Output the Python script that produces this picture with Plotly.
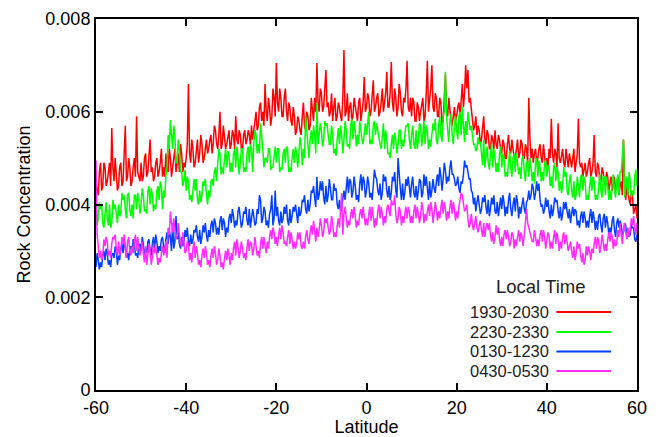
import plotly.graph_objects as go

# Sampling: main samples every 0.5 deg from -60 to 60, "mid" samples at the quarter-degree
# points in between (-59.75, -59.25, ... 59.75). Values in units of 1e-3.
LAT_START = -60
LAT_STEP = 0.25
UNIT = 1e-3

red_1930_2030 = [
    4.5, 4.2, 4.9, 4.4, 4.8, 4.5, 4.9, 5.65, 4.5, 4.7,
    4.4, 4.9, 4.5, 5.7, 4.6, 4.8, 4.5, 5.0, 5.9, 4.6,
    4.9, 4.6, 5.1, 4.7, 5.4, 4.8, 4.6, 5.0, 4.7, 5.2,
    4.8, 5.1, 4.7, 5.0, 4.8, 5.2, 4.9, 4.7, 5.1, 4.9,
    5.0, 6.6, 4.9, 5.2, 4.9, 5.4, 5.1, 5.3, 5.0, 5.4,
    5.2, 5.5, 5.3, 5.6, 5.2, 6.0, 5.3, 5.5, 5.3, 5.6,
    5.3, 5.5, 5.9, 5.3, 5.5, 5.2, 5.6, 5.4, 5.5, 5.7,
    5.6, 6.0, 5.7, 6.2, 6.0, 6.6, 5.8, 6.1, 5.9, 6.3,
    7.05, 6.0, 6.3, 5.9, 6.5, 5.8, 6.1, 5.7, 5.9, 5.6,
    5.8, 5.5, 6.2, 5.6, 5.9, 5.7, 6.1, 6.3, 7.05, 6.0,
    6.4, 6.1, 6.9, 6.2, 6.0, 5.8, 6.3, 5.9, 6.1, 5.8,
    7.33, 6.0, 5.8, 6.2, 5.9, 6.1, 5.8, 6.3, 6.0, 6.75,
    6.1, 6.3, 6.0, 6.68, 6.1, 6.4, 6.0, 6.5, 6.2, 6.86,
    6.1, 7.07, 6.0, 6.3, 6.1, 6.4, 5.9, 6.2, 7.1, 6.0,
    5.9, 6.2, 5.8, 6.1, 6.0, 6.3, 5.9, 7.1, 6.2, 7.0,
    6.0, 6.3, 5.9, 6.2, 5.8, 6.8, 5.9, 6.0, 5.7, 6.1,
    5.9, 6.2, 6.4, 6.1, 7.0, 6.9, 6.3, 5.8, 5.7, 5.5,
    5.6, 5.4, 5.9, 5.3, 5.5, 5.2, 5.4, 5.6, 5.2, 5.4,
    5.1, 5.3, 5.0, 5.5, 5.1, 5.2, 5.0, 5.4, 5.1, 5.3,
    5.0, 5.2, 6.3, 5.0, 4.9, 5.2, 5.0, 5.3, 4.9, 5.1,
    5.0, 5.2, 5.85, 4.9, 5.1, 5.75, 4.9, 5.2, 4.8, 5.0,
    5.1, 4.8, 5.2, 4.9, 5.85, 4.8, 4.6, 4.9, 4.7, 5.0,
    4.7, 5.5, 4.6, 4.8, 4.5, 4.7, 4.4, 4.6, 4.5, 4.3,
    4.6, 4.4, 4.2, 4.5, 5.4, 4.1, 4.3, 4.0, 4.2, 3.9,
    3.7,
]
red_1930_2030_mid = [
    4.3, 4.7, 4.3, 4.9, 4.4, 4.7, 4.4, 4.8, 5.0, 4.3,
    4.8, 4.4, 5.1, 4.5, 5.0, 4.4, 4.8, 4.6, 4.7, 4.5,
    4.5, 5.0, 4.6, 5.0, 4.7, 4.5, 4.9, 4.6, 4.9, 4.6,
    4.6, 4.8, 5.2, 4.6, 5.0, 4.7, 5.1, 5.3, 4.7, 4.8,
    5.3, 5.1, 5.4, 4.8, 5.1, 4.9, 5.5, 4.9, 5.2, 5.1,
    5.4, 5.1, 5.7, 5.3, 5.5, 5.2, 5.7, 5.2, 5.5, 5.2,
    5.6, 5.2, 5.4, 5.6, 5.2, 5.5, 5.3, 5.6, 5.3, 5.4,
    5.8, 5.6, 6.1, 5.8, 5.7, 6.0, 6.3, 5.7, 6.5, 5.9,
    6.2, 6.5, 5.9, 6.3, 6.0, 6.2, 5.8, 6.1, 5.5, 5.9,
    5.6, 5.9, 5.7, 6.0, 5.6, 6.3, 5.8, 6.0, 6.2, 6.5,
    6.0, 6.5, 6.1, 5.9, 6.4, 6.1, 5.8, 6.2, 5.9, 6.3,
    5.9, 6.4, 6.1, 5.8, 6.3, 5.9, 6.2, 5.8, 6.2, 6.0,
    6.4, 5.9, 6.3, 6.0, 6.3, 5.9, 6.2, 6.0, 6.4, 6.1,
    6.4, 6.2, 6.5, 5.9, 6.6, 6.0, 6.3, 6.5, 6.1, 6.3,
    6.3, 5.8, 6.2, 5.8, 6.2, 5.8, 6.4, 6.0, 6.5, 6.1,
    6.4, 5.9, 6.3, 5.7, 6.2, 6.0, 6.3, 5.8, 6.0, 5.8,
    6.1, 5.9, 6.6, 6.4, 6.5, 6.2, 6.0, 5.6, 5.9, 5.7,
    5.3, 5.7, 5.4, 5.6, 5.2, 5.5, 5.2, 5.3, 5.5, 5.2,
    5.4, 5.0, 5.3, 5.2, 5.4, 5.0, 5.2, 5.0, 5.4, 5.0,
    5.3, 4.9, 5.4, 5.2, 5.1, 4.9, 5.2, 5.0, 5.3, 4.8,
    4.8, 5.0, 5.1, 5.2, 4.8, 5.0, 5.1, 4.9, 5.2, 4.8,
    4.9, 5.0, 4.7, 5.1, 4.9, 4.9, 4.8, 4.6, 4.9, 4.6,
    4.9, 4.7, 4.9, 4.5, 4.8, 4.5, 4.7, 4.3, 4.6, 4.5,
    4.3, 4.6, 4.4, 4.2, 4.5, 4.4, 4.1, 4.3, 3.8, 4.0,
]

green_2230_2330 = [
    4.3, 3.7, 3.9, 3.6, 3.8, 3.7, 4.0, 3.6, 3.9, 3.8,
    4.0, 3.8, 4.1, 3.9, 4.2, 3.9, 4.0, 4.2, 3.9, 4.1,
    4.0, 4.2, 3.9, 4.3, 4.0, 4.2, 4.0, 4.3, 4.1, 4.4,
    4.3, 4.6, 5.5, 5.82, 5.2, 5.5, 4.9, 5.2, 4.7, 4.5,
    4.3, 4.5, 4.2, 4.4, 4.3, 4.1, 4.3, 4.2, 4.4, 4.2,
    4.3, 4.5, 4.4, 4.8, 4.9, 5.1, 4.8, 5.0, 4.8, 5.1,
    4.9, 5.1, 4.8, 5.0, 4.9, 5.2, 4.8, 5.1, 4.9, 5.2,
    5.3, 5.5, 5.3, 5.75, 5.2, 5.0, 4.9, 5.2, 4.8, 5.1,
    4.9, 5.2, 4.8, 5.1, 4.9, 5.2, 4.8, 5.0, 4.9, 5.1,
    5.1, 5.3, 5.2, 5.9, 5.2, 5.4, 5.3, 5.5, 6.18, 5.5,
    5.6, 5.4, 5.7, 5.5, 5.3, 5.5, 5.2, 5.4, 5.3, 5.5,
    5.4, 5.6, 5.3, 5.7, 5.4, 5.6, 5.5, 5.8, 5.4, 5.6,
    5.5, 6.0, 5.4, 5.7, 5.5, 5.6, 5.3, 5.5, 5.2, 5.4,
    5.1, 5.3, 5.2, 5.4, 5.3, 5.6, 5.4, 5.5, 5.7, 5.4,
    5.5, 5.3, 5.6, 5.4, 5.7, 5.5, 5.3, 5.6, 5.4, 5.5,
    5.6, 5.4, 5.7, 5.5, 5.9, 6.86, 5.6, 5.8, 5.5, 5.7,
    5.6, 5.9, 5.5, 5.7, 5.8, 6.0, 5.6, 5.4, 5.3, 5.2,
    5.3, 5.1, 5.4, 5.0, 4.9, 5.1, 4.8, 5.0, 4.9, 5.1,
    4.8, 5.0, 4.7, 4.9, 4.8, 5.0, 4.7, 4.9, 4.8, 5.0,
    4.7, 4.9, 4.6, 4.8, 4.7, 4.9, 4.6, 4.8, 4.7, 4.9,
    4.6, 4.8, 4.6, 4.8, 4.5, 4.7, 4.5, 4.4, 4.6, 4.3,
    4.5, 4.3, 4.5, 4.2, 4.4, 4.6, 4.3, 4.5, 4.2, 4.4,
    4.3, 4.5, 4.2, 4.4, 4.3, 4.6, 4.2, 4.4, 4.3, 4.5,
    4.3, 4.5, 4.2, 4.7, 5.4, 4.4, 4.2, 4.5, 4.3, 4.6,
    4.4,
]
green_2230_2330_mid = [
    3.55, 4.05, 4.0, 3.5, 4.05, 3.55, 3.5, 4.1, 4.0, 3.6,
    3.75, 4.25, 4.2, 3.7, 4.25, 3.75, 3.7, 4.2, 4.25, 3.8,
    4.35, 3.85, 3.8, 4.4, 4.35, 3.85, 3.9, 4.4, 4.5, 3.9,
    4.15, 4.8, 5.2, 5.5, 5.7, 4.9, 5.4, 4.7, 4.4, 4.75,
    4.6, 4.1, 4.05, 4.55, 4.55, 4.0, 4.05, 4.5, 4.55, 4.0,
    4.15, 4.55, 4.7, 4.5, 5.2, 4.65, 4.65, 5.2, 5.15, 4.7,
    4.7, 5.2, 5.25, 4.65, 5.2, 4.7, 4.7, 5.25, 5.3, 4.7,
    5.6, 5.1, 5.1, 5.5, 4.8, 5.0, 5.2, 4.75, 4.8, 5.25,
    5.2, 4.7, 4.75, 5.2, 5.25, 4.7, 4.7, 5.2, 5.25, 4.8,
    5.45, 4.85, 5.0, 5.55, 5.0, 5.6, 5.7, 5.1, 5.3, 5.75,
    5.25, 5.8, 5.75, 5.3, 5.7, 5.1, 5.05, 5.65, 5.7, 5.1,
    5.8, 5.25, 5.2, 5.85, 5.8, 5.25, 5.3, 5.55, 5.3, 5.75,
    5.75, 5.3, 5.3, 5.8, 5.75, 5.35, 5.2, 5.75, 5.6, 5.1,
    5.0, 5.5, 5.55, 5.1, 5.6, 5.2, 5.25, 5.7, 5.75, 5.2,
    5.7, 5.2, 5.2, 5.75, 5.25, 5.8, 5.7, 5.2, 5.25, 5.75,
    5.85, 5.3, 5.9, 5.35, 6.0, 5.9, 5.35, 5.95, 5.3, 5.9,
    5.4, 6.0, 6.1, 5.35, 5.5, 5.85, 5.7, 5.3, 5.15, 5.45,
    5.35, 4.85, 4.8, 5.25, 4.75, 5.3, 5.2, 4.7, 4.7, 5.25,
    5.1, 4.6, 4.6, 5.15, 4.6, 5.1, 5.1, 4.65, 4.55, 5.05,
    4.5, 4.95, 5.0, 4.5, 4.45, 5.0, 4.95, 4.5, 4.5, 4.95,
    4.85, 4.4, 4.35, 4.9, 4.8, 4.3, 4.25, 4.8, 4.7, 4.2,
    4.65, 4.15, 4.1, 4.6, 4.15, 4.65, 4.6, 4.1, 4.1, 4.6,
    4.6, 4.1, 4.1, 4.65, 4.15, 4.6, 4.6, 4.1, 4.1, 4.65,
    4.15, 4.65, 4.7, 5.0, 4.15, 4.6, 4.7, 4.15, 4.2, 4.75,
]

blue_0130_1230 = [
    2.65, 2.8, 2.75, 2.9, 2.8, 2.95, 2.8, 2.9, 2.85, 3.0,
    2.9, 3.05, 2.95, 3.1, 2.95, 3.05, 3.0, 3.15, 2.95, 3.1,
    3.0, 3.15, 3.05, 3.2, 3.0, 3.15, 3.05, 3.2, 3.1, 3.25,
    3.1, 3.25, 3.15, 3.3, 3.6, 3.2, 3.25, 3.15, 3.3, 3.2,
    3.3, 3.2, 3.35, 3.25, 3.4, 3.3, 3.45, 3.3, 3.4, 3.35,
    3.45, 3.55, 3.4, 3.6, 3.5, 3.65, 3.45, 3.6, 3.5, 3.7,
    3.6, 3.75, 3.65, 3.85, 3.7, 3.6, 3.8, 3.65, 3.9, 3.7,
    3.75, 3.6, 3.8, 4.1, 3.7, 3.85, 3.65, 3.8, 4.2, 3.7,
    3.75, 3.65, 3.85, 3.7, 3.8, 3.65, 3.9, 3.75, 3.85, 3.8,
    3.95, 3.85, 4.05, 3.9, 4.1, 4.0, 4.25, 4.15, 4.6, 4.2,
    4.3, 4.15, 4.4, 4.2, 4.35, 4.1, 4.3, 4.0, 4.1, 3.95,
    4.3, 4.45, 4.25, 4.5, 4.3, 4.4, 4.2, 4.45, 4.3, 4.5,
    4.3, 4.45, 4.25, 4.4, 4.6, 4.3, 4.45, 4.25, 4.5, 4.3,
    4.4, 4.25, 4.5, 4.3, 5.0, 4.35, 4.45, 4.25, 4.4, 4.3,
    4.45, 4.25, 4.4, 4.3, 4.5, 4.25, 4.4, 4.35, 4.5, 4.3,
    4.35, 4.5, 4.4, 4.6, 4.55, 4.75, 4.6, 4.8, 4.65, 4.55,
    4.45, 4.35, 4.5, 4.65, 4.8, 4.7, 4.55, 4.25, 4.15, 4.05,
    4.0, 3.9, 4.05, 3.95, 4.1, 3.9, 4.0, 3.85, 4.05, 3.95,
    3.9, 4.05, 3.95, 4.1, 3.9, 4.0, 3.85, 4.05, 3.95, 4.0,
    3.9, 4.05, 4.3, 4.2, 4.35, 4.25, 4.3, 4.1, 4.0, 3.9,
    3.95, 3.85, 4.0, 3.9, 4.05, 3.85, 3.95, 3.8, 3.9, 3.85,
    3.9, 3.8, 3.75, 3.85, 3.65, 3.75, 3.6, 3.7, 3.65, 3.75,
    3.6, 3.7, 3.65, 3.75, 3.55, 3.7, 3.5, 3.6, 3.5, 3.65,
    3.45, 3.6, 3.5, 3.55, 3.4, 3.55, 3.45, 3.35, 3.5, 3.25,
    3.35,
]
blue_0130_1230_mid = [
    2.95, 2.6, 2.65, 3.0, 3.05, 2.7, 2.65, 2.95, 3.1, 2.7,
    2.8, 3.15, 3.2, 2.85, 2.8, 3.1, 3.25, 2.9, 2.85, 3.15,
    3.3, 2.9, 2.95, 3.25, 2.9, 3.3, 3.35, 2.95, 3.0, 3.3,
    2.95, 3.4, 3.45, 3.0, 3.05, 3.75, 3.4, 3.05, 3.1, 3.45,
    3.5, 3.1, 3.15, 3.45, 3.55, 3.2, 3.15, 3.55, 3.6, 3.2,
    3.3, 3.65, 3.7, 3.35, 3.35, 3.75, 3.7, 3.3, 3.4, 3.8,
    3.9, 3.5, 3.55, 3.95, 3.5, 3.85, 3.95, 3.55, 3.5, 3.9,
    3.55, 3.9, 4.2, 3.6, 3.95, 3.55, 3.5, 3.9, 3.55, 4.3,
    3.95, 3.55, 3.6, 3.95, 4.0, 3.55, 3.6, 3.95, 4.0, 3.6,
    3.75, 4.1, 4.2, 3.8, 3.85, 4.3, 4.4, 3.95, 4.1, 4.5,
    4.5, 4.0, 4.05, 4.55, 4.1, 4.45, 4.35, 3.9, 3.85, 4.2,
    4.1, 4.6, 4.55, 4.15, 4.6, 4.1, 4.05, 4.65, 4.6, 4.15,
    4.6, 4.15, 4.1, 4.75, 4.55, 4.2, 4.1, 4.65, 4.6, 4.15,
    4.1, 4.6, 4.7, 4.15, 4.6, 4.1, 4.1, 4.55, 4.6, 4.15,
    4.6, 4.15, 4.1, 4.55, 4.15, 4.65, 4.6, 4.1, 4.15, 4.55,
    4.25, 4.65, 4.8, 4.3, 4.9, 4.45, 4.5, 4.95, 4.65, 4.4,
    4.6, 4.25, 4.45, 4.95, 4.85, 4.55, 4.3, 4.0, 3.85, 4.2,
    3.8, 4.15, 4.2, 3.8, 3.75, 4.15, 4.2, 3.8, 3.75, 4.15,
    4.2, 3.75, 3.8, 4.25, 3.75, 4.15, 4.2, 3.7, 3.8, 4.15,
    3.8, 4.1, 4.1, 4.45, 4.1, 4.5, 4.45, 3.95, 3.8, 4.15,
    4.1, 3.7, 3.75, 4.15, 4.1, 3.7, 3.65, 4.05, 4.05, 3.7,
    3.6, 3.95, 3.9, 3.55, 3.5, 3.85, 3.85, 3.5, 3.5, 3.9,
    3.85, 3.45, 3.45, 3.8, 3.4, 3.8, 3.75, 3.35, 3.4, 3.75,
    3.3, 3.7, 3.65, 3.35, 3.6, 3.3, 3.3, 3.55, 3.5, 3.2,
]

magenta_0430_0530 = [
    4.95, 3.1, 3.0, 2.9, 3.1, 3.2, 3.0, 3.15, 3.25, 3.05,
    3.2, 3.0, 3.15, 3.05, 3.2, 3.0, 3.1, 3.2, 3.0, 3.1,
    3.05, 2.95, 3.1, 2.9, 3.0, 2.85, 2.95, 2.9, 2.85, 2.95,
    2.9, 3.2, 3.5, 3.85, 3.4, 3.5, 3.3, 3.35, 3.1, 3.2,
    3.0, 3.15, 2.95, 3.05, 2.85, 2.95, 2.8, 2.9, 2.85, 2.95,
    2.8, 2.9, 2.85, 2.95, 2.8, 2.9, 2.75, 2.85, 2.8, 2.9,
    2.95, 3.05, 2.9, 3.1, 3.0, 3.05, 2.95, 3.1, 3.0, 3.15,
    3.05, 3.1, 3.0, 3.15, 3.05, 3.1, 3.2, 3.3, 3.25, 3.4,
    3.3, 3.35, 3.25, 3.4, 3.2, 3.3, 3.15, 3.25, 3.2, 3.15,
    3.25, 3.1, 3.2, 3.3, 3.25, 3.4, 3.35, 3.45, 3.5, 3.45,
    3.55, 3.4, 3.6, 3.5, 3.45, 3.6, 3.4, 3.55, 3.5, 4.25,
    3.8, 3.7, 3.65, 3.8, 3.7, 3.75, 3.65, 3.8, 3.7, 3.75,
    3.7, 3.8, 3.65, 3.75, 3.7, 3.85, 3.7, 3.8, 3.75, 3.9,
    3.85, 4.1, 4.0, 3.8, 3.7, 3.85, 3.75, 3.8, 3.7, 3.85,
    3.75, 3.85, 3.7, 3.8, 3.75, 3.9, 3.8, 3.85, 3.75, 3.9,
    3.8, 3.9, 3.85, 3.95, 3.8, 3.9, 3.85, 3.95, 3.8, 3.9,
    3.85, 3.95, 4.25, 4.05, 3.9, 3.7, 3.6, 3.55, 3.6, 3.5,
    3.55, 3.45, 3.6, 3.5, 3.45, 3.35, 3.4, 3.3, 3.35, 3.25,
    3.3, 3.35, 3.25, 3.3, 3.2, 3.35, 3.25, 3.3, 3.2, 3.3,
    3.35, 3.9, 3.5, 3.3, 3.2, 3.3, 3.25, 3.35, 3.2, 3.3,
    3.25, 3.3, 3.2, 3.3, 3.15, 3.25, 3.2, 3.3, 3.15, 3.2,
    3.1, 3.0, 3.1, 2.95, 3.05, 2.9, 2.95, 2.8, 2.9, 3.0,
    3.05, 3.15, 3.05, 3.2, 3.1, 3.2, 3.15, 3.25, 3.2, 3.3,
    3.25, 3.15, 3.3, 3.35, 3.45, 3.4, 3.5, 3.45, 3.55, 3.5,
    3.6,
]
magenta_0430_0530_mid = [
    3.35, 2.85, 2.8, 3.25, 3.3, 2.9, 2.85, 3.3, 3.35, 2.9,
    2.9, 3.3, 3.35, 2.85, 3.3, 2.9, 2.95, 3.35, 3.3, 2.9,
    3.2, 2.75, 2.7, 3.15, 2.7, 3.15, 3.1, 2.7, 2.75, 3.1,
    3.1, 2.85, 3.35, 3.6, 3.7, 3.25, 3.6, 3.15, 3.4, 2.95,
    3.2, 2.8, 2.75, 3.2, 3.1, 2.7, 2.65, 3.05, 3.1, 2.7,
    2.65, 3.05, 3.1, 2.7, 3.05, 2.65, 2.6, 3.0, 3.05, 2.7,
    2.8, 3.2, 3.25, 2.85, 3.2, 2.85, 2.8, 3.25, 3.2, 2.9,
    3.3, 2.9, 2.85, 3.3, 3.3, 2.95, 3.05, 3.45, 3.5, 3.15,
    3.1, 3.5, 3.55, 3.15, 3.1, 3.45, 3.4, 3.05, 3.05, 3.4,
    3.4, 3.05, 3.05, 3.45, 3.15, 3.55, 3.65, 3.2, 3.3, 3.7,
    3.3, 3.7, 3.7, 3.35, 3.75, 3.3, 3.3, 3.7, 4.0, 3.35,
    3.95, 3.5, 3.55, 3.9, 3.95, 3.5, 3.55, 3.9, 3.95, 3.55,
    3.55, 3.95, 3.95, 3.5, 3.55, 4.0, 3.95, 3.55, 3.6, 4.0,
    3.75, 4.0, 4.2, 3.6, 3.95, 3.55, 3.6, 3.95, 3.95, 3.6,
    3.6, 4.0, 3.95, 3.6, 4.05, 3.6, 3.65, 4.0, 4.05, 3.6,
    4.05, 3.65, 3.7, 4.1, 4.05, 3.65, 3.7, 4.1, 4.05, 3.65,
    3.7, 4.15, 4.2, 3.85, 4.0, 3.5, 3.8, 3.45, 3.75, 3.4,
    3.65, 3.3, 3.3, 3.6, 3.6, 3.2, 3.15, 3.55, 3.5, 3.1,
    3.1, 3.45, 3.45, 3.1, 3.4, 3.05, 3.1, 3.45, 3.4, 3.1,
    3.7, 3.6, 3.45, 3.2, 3.45, 3.1, 3.1, 3.45, 3.45, 3.05,
    3.4, 3.05, 3.05, 3.45, 3.4, 3.0, 3.05, 3.4, 3.35, 3.0,
    3.2, 2.85, 2.8, 3.2, 3.15, 2.75, 2.7, 3.1, 3.1, 2.8,
    2.95, 3.3, 3.3, 2.95, 3.35, 3.0, 3.0, 3.4, 3.4, 3.05,
    3.1, 3.45, 3.6, 3.15, 3.6, 3.25, 3.3, 3.7, 3.75, 3.35,
]

SERIES_NAMES = ["1930-2030", "2230-2330", "0130-1230", "0430-0530"]
SERIES_VALUES = [
    (red_1930_2030, red_1930_2030_mid),
    (green_2230_2330, green_2230_2330_mid),
    (blue_0130_1230, blue_0130_1230_mid),
    (magenta_0430_0530, magenta_0430_0530_mid),
]
SERIES_COLORS = ["#ff0000", "#00ff00", "#0040ff", "#ff2bff"]

X_TICKS = [-60, -40, -20, 0, 20, 40, 60]
X_TICK_LABELS = ["-60", "-40", "-20", "0", "20", "40", "60"]
Y_TICKS = [0, 0.002, 0.004, 0.006, 0.008]
Y_TICK_LABELS = ["0", "0.002", "0.004", "0.006", "0.008"]

FONT = "Liberation Sans, Arial, Helvetica, sans-serif"


def merge(main, mid):
    out = []
    for i, v in enumerate(main):
        out.append(v * UNIT)
        if i < len(mid):
            out.append(mid[i] * UNIT)
    return out


fig = go.Figure()
for name, (main, mid), col in zip(SERIES_NAMES, SERIES_VALUES, SERIES_COLORS):
    fig.add_trace(go.Scatter(
        x0=LAT_START, dx=LAT_STEP,
        y=merge(main, mid),
        mode="lines", name=name,
        line=dict(color=col, width=1.5),
        showlegend=False, hoverinfo="skip",
    ))

# legend drawn like the original (label left of the line sample)
fig.add_annotation(xref="paper", yref="paper", x=0.821, y=0.278,
                   text="Local Time", showarrow=False,
                   font=dict(size=18.5, color="#222222", family=FONT),
                   xanchor="center", yanchor="middle")
rows_y = [0.210, 0.156, 0.104, 0.051]
for name, col, yy in zip(SERIES_NAMES, SERIES_COLORS, rows_y):
    fig.add_annotation(xref="paper", yref="paper", x=0.841, y=yy,
                       text=name, showarrow=False,
                       font=dict(size=16.5, color="#222222", family=FONT),
                       xanchor="right", yanchor="middle")
    fig.add_shape(type="line", xref="paper", yref="paper",
                  x0=0.851, x1=0.952, y0=yy, y1=yy,
                  line=dict(color=col, width=2))

# the page body adds an 8px offset, so the figure is 8px smaller on each axis
fig.update_layout(
    width=652, height=429,
    margin=dict(l=88, r=23, t=11, b=47, autoexpand=False),
    paper_bgcolor="white", plot_bgcolor="white",
    font=dict(family=FONT, size=18, color="black"),
    showlegend=False,
)
fig.update_xaxes(
    range=[-60, 60], tickvals=X_TICKS, ticktext=X_TICK_LABELS,
    ticks="inside", ticklen=7, tickwidth=1.5, tickcolor="black",
    showline=True, linecolor="black", linewidth=2, mirror="ticks",
    showgrid=False, zeroline=False, automargin=False,
    title=dict(text="Latitude", standoff=0, font=dict(size=18)),
    tickfont=dict(size=18),
)
fig.update_yaxes(
    range=[0, 0.008], tickvals=Y_TICKS, ticktext=Y_TICK_LABELS,
    ticks="inside", ticklen=7, tickwidth=1.5, tickcolor="black",
    showline=True, linecolor="black", linewidth=2, mirror="ticks",
    showgrid=False, zeroline=False, automargin=False,
    title=dict(text="Rock Concentration", standoff=10, font=dict(size=18)),
    tickfont=dict(size=18),
)

fig.write_html("out.html", config={"displayModeBar": False})
